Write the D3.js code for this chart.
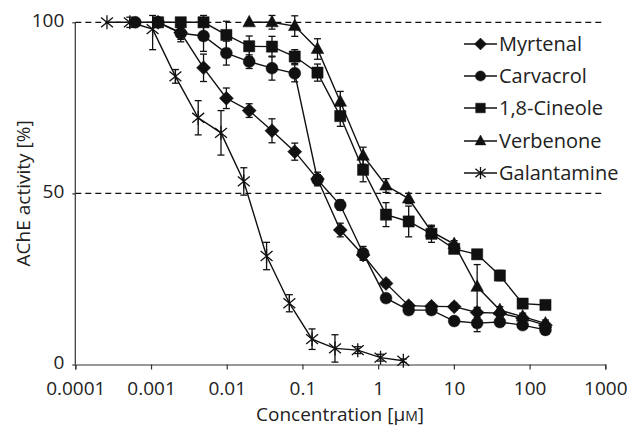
<!DOCTYPE html>
<html lang="en">
<head>
<meta charset="UTF-8" />
<title>AChE activity</title>
<script src="https://d3js.org/d3.v7.min.js"></script>
<style>
  body { margin: 0; background: #fff; }
  svg { display: block; font-family: "Open Sans", "Noto Sans", sans-serif; }
</style>
</head>
<body>
<div id="chart"></div>
<script>
// concentrations [µM] (two-fold dilution series)
const concOils = [0.00062, 0.00124, 0.00247, 0.00494, 0.00989, 0.0198, 0.0396, 0.0791, 0.158, 0.316,
                  0.633, 1.27, 2.53, 5.06, 10.1, 20.3, 40.5, 81, 162];
const concGal = [0.000262, 0.000525, 0.00105, 0.0021, 0.0042, 0.0084, 0.0168, 0.0336, 0.0672, 0.134,
                 0.269, 0.538, 1.075, 2.15];

// AChE activity [%] and error (null = no point at that concentration)
const myrtenal    = [null, 100, 97, 86.7, 77.8, 74.2, 68.3, 62.2, 54.2, 39.3, 32, 23.7, 17.2, 17, 16.9, 15.2, 15, 13.5, 11.5];
const myrtenalErr = [null, 0, 2, 4, 3, 2, 3.5, 2.5, 2, 2, 1.5, 1, 1, 1, 1, 1.5, 1, 1, 1];
const carvacrol    = [100, 100, 96.8, 96, 91, 88.5, 86.6, 85.1, 54, 46.6, 32.5, 19.4, 15.9, 15.9, 12.7, 12.1, 12.4, 11.5, 10.1];
const carvacrolErr = [0, 0, 2.5, 4.5, 3.5, 2, 3.5, 2.5, 1.5, 1.5, 2, 1, 1, 1, 1, 2.5, 1, 1, 1];
const cineole    = [null, 100, 100, 100, 96.3, 93, 92.9, 90, 85.3, 72.6, 56.9, 43.8, 41.8, 38.2, 33.8, 32.2, 26, 17.8, 17.4];
const cineoleErr = [null, 0, 1, 4, 4, 3, 3, 2, 2.5, 3, 3.5, 3.5, 4.5, 2.5, 1, 1, 1.5, 1, 1];
const verbenone    = [null, null, null, null, null, 100, 100, 98.9, 92.2, 76.8, 61, 52.3, 48.5, 38.8, 35.2, 22.7, 15.9, 14, 12];
const verbenoneErr = [null, null, null, null, null, 0, 2, 3, 3, 3, 2.5, 2, 1.5, 1.5, 1, 6.5, 1, 1, 1];
const galantamine    = [100, 100, 98, 84.2, 72.1, 67.7, 53.5, 31.7, 17.9, 7.4, 4.7, 4.2, 2.0, 1.1];
const galantamineErr = [0, 1.5, 6, 2, 5, 6.5, 4, 4, 2.5, 3, 4, 1, 1, 0.5];

const seriesNames = ["Myrtenal", "Carvacrol", "1,8-Cineole", "Verbenone", "Galantamine"];
const xTicks = [0.0001, 0.001, 0.01, 0.1, 1, 10, 100, 1000];
const xTickLabels = ["0.0001", "0.001", "0.01", "0.1", "1", "10", "100", "1000"];
const yTicks = [0, 50, 100];
const refLines = [100, 50];

function toPoints(conc, vals, errs) {
  const pts = [];
  vals.forEach((v, i) => { if (v !== null) pts.push({ c: conc[i], v: v, e: errs[i] }); });
  return pts;
}

const series = [
  { name: seriesNames[0], shape: "diamond",  pts: toPoints(concOils, myrtenal, myrtenalErr) },
  { name: seriesNames[1], shape: "circle",   pts: toPoints(concOils, carvacrol, carvacrolErr) },
  { name: seriesNames[2], shape: "square",   pts: toPoints(concOils, cineole, cineoleErr) },
  { name: seriesNames[3], shape: "triangle", pts: toPoints(concOils, verbenone, verbenoneErr) },
  { name: seriesNames[4], shape: "star",     pts: toPoints(concGal, galantamine, galantamineErr) }
];

const width = 631, height = 427;
const svg = d3.select("#chart").append("svg").attr("width", width).attr("height", height);

const x = d3.scaleLog().domain([1e-4, 1e3]).range([75.3, 605.3]);
const y = d3.scaleLinear().domain([0, 100]).range([364.5, 22.3]);

// marker paths
function markerPath(shape, s) {
  switch (shape) {
    case "diamond": return `M0,${-s}L${s},0L0,${s}L${-s},0Z`;
    case "square": { const h = s * 0.8; return `M${-h},${-h}H${h}V${h}H${-h}Z`; }
    case "triangle": return `M0,${-s}L${s * 0.9},${s * 0.65}L${-s * 0.9},${s * 0.65}Z`;
    case "circle": { const r = s * 0.85; return `M${r},0A${r},${r} 0 1,1 ${-r},0A${r},${r} 0 1,1 ${r},0Z`; }
    case "star": {
      const a = s * 0.85, b = s * 0.7;
      return `M0,${-s}V${s}M${-a},${-b}L${a},${b}M${-a},${b}L${a},${-b}`;
    }
  }
}

// dashed reference lines
svg.selectAll("line.ref").data(refLines).enter().append("line")
  .attr("x1", x.range()[0]).attr("x2", x.range()[1])
  .attr("y1", d => y(d)).attr("y2", d => y(d))
  .attr("stroke", "#111").attr("stroke-width", 1.3).attr("stroke-dasharray", "6,4");

// axes
const xAxis = svg.append("g").attr("transform", `translate(0,${y(0)})`)
  .call(d3.axisBottom(x).tickValues(xTicks).tickSize(5).tickPadding(12)
    .tickFormat((d, i) => xTickLabels[i]));
const yAxis = svg.append("g").attr("transform", `translate(${x.range()[0]},0)`)
  .call(d3.axisLeft(y).tickValues(yTicks).tickSize(3).tickPadding(8));
yAxis.select(".domain").attr("d", `M0,${y(0)}V${y(100)}`);
[xAxis, yAxis].forEach(g => {
  g.select(".domain").attr("stroke", "#333").attr("stroke-width", 1.2);
  g.selectAll(".tick line").attr("stroke", "#333").attr("stroke-width", 1.2);
  g.selectAll(".tick text").attr("font-size", 19).attr("fill", "#222")
    .attr("font-family", "'Open Sans', 'Noto Sans', sans-serif");
});
yAxis.selectAll(".tick text").attr("dy", "0.2em");

// axis titles
const xt = svg.append("text").attr("x", 340).attr("y", 421).attr("text-anchor", "middle")
  .attr("font-size", 19).attr("fill", "#222").text("Concentration [\u03bc");
xt.append("tspan").attr("font-size", 14).text("M");
xt.append("tspan").text("]");
svg.append("text").attr("transform", `translate(30,${y(50)}) rotate(-90)`)
  .attr("text-anchor", "middle").attr("font-size", 19).attr("fill", "#222")
  .text("AChE activity [%]");

const line = d3.line().x(d => x(d.c)).y(d => y(d.v));

// series
series.forEach(s => {
  const g = svg.append("g");
  g.append("path").datum(s.pts).attr("d", line)
    .attr("fill", "none").attr("stroke", "#111").attr("stroke-width", 1.4);
  const eb = g.selectAll("g.err").data(s.pts.filter(p => p.e > 0)).enter().append("g")
    .attr("stroke", "#111").attr("stroke-width", 1.3);
  eb.append("line").attr("x1", d => x(d.c)).attr("x2", d => x(d.c))
    .attr("y1", d => y(d.v - d.e)).attr("y2", d => y(Math.min(d.v + d.e, 102)));
  eb.append("line").attr("x1", d => x(d.c) - 3.5).attr("x2", d => x(d.c) + 3.5)
    .attr("y1", d => y(d.v - d.e)).attr("y2", d => y(d.v - d.e));
  eb.append("line").attr("x1", d => x(d.c) - 3.5).attr("x2", d => x(d.c) + 3.5)
    .attr("y1", d => y(Math.min(d.v + d.e, 102))).attr("y2", d => y(Math.min(d.v + d.e, 102)));
  g.selectAll("path.mk").data(s.pts).enter().append("path")
    .attr("transform", d => `translate(${x(d.c)},${y(d.v)})`)
    .attr("d", markerPath(s.shape, 7))
    .attr("fill", s.shape === "star" ? "none" : "#111")
    .attr("stroke", "#111").attr("stroke-width", s.shape === "star" ? 1.3 : 0.5);
});

// legend
const legend = svg.append("g");
const legY = [44, 76, 108, 141, 173];
series.forEach((s, i) => {
  const row = legend.append("g").attr("transform", `translate(0,${legY[i]})`);
  row.append("line").attr("x1", 464).attr("x2", 497).attr("stroke", "#111").attr("stroke-width", 1.4);
  row.append("path").attr("transform", "translate(480.5,0)")
    .attr("d", markerPath(s.shape, 6))
    .attr("fill", s.shape === "star" ? "none" : "#111")
    .attr("stroke", "#111").attr("stroke-width", s.shape === "star" ? 1.3 : 0.5);
  row.append("text").attr("x", 499).attr("y", 7).attr("font-size", 20).attr("fill", "#222")
    .text(s.name);
});
</script>
</body>
</html>
